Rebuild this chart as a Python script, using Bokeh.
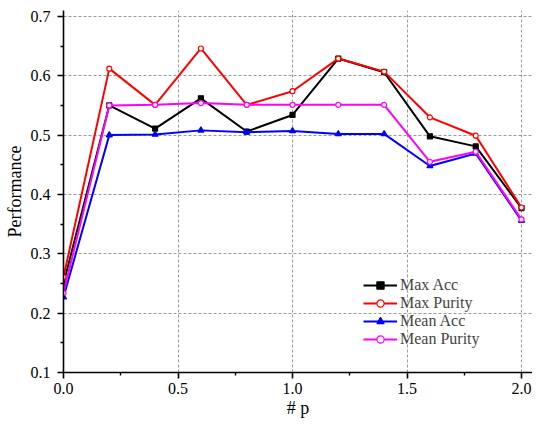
from bokeh.plotting import figure
from bokeh.models import FixedTicker, PrintfTickFormatter, Range1d, Legend, LegendItem
from bokeh.embed import file_html
from bokeh.resources import INLINE

p_values = [0.0, 0.2, 0.4, 0.6, 0.8, 1.0, 1.2, 1.4, 1.6, 1.8, 2.0]
max_acc = [0.250, 0.550, 0.511, 0.562, 0.506, 0.534, 0.629, 0.606, 0.498, 0.481, 0.377]
max_purity = [0.261, 0.612, 0.551, 0.646, 0.551, 0.574, 0.629, 0.607, 0.530, 0.499, 0.378]
mean_acc = [0.227, 0.500, 0.501, 0.508, 0.505, 0.507, 0.502, 0.502, 0.448, 0.469, 0.356]
mean_purity = [0.234, 0.550, 0.551, 0.554, 0.551, 0.551, 0.551, 0.551, 0.455, 0.472, 0.358]

x_ticks = [0.0, 0.5, 1.0, 1.5, 2.0]
x_minor = [0.25, 0.75, 1.25, 1.75]
y_ticks = [0.1, 0.2, 0.3, 0.4, 0.5, 0.6, 0.7]
y_minor = [0.15, 0.25, 0.35, 0.45, 0.55, 0.65]

FONT = "Liberation Serif"

p = figure(output_backend="svg", toolbar_location=None,
           frame_width=469, frame_height=362,
           min_border_left=63, min_border_right=0, min_border_top=10, min_border_bottom=40,
           x_range=Range1d(0, 2.048), y_range=Range1d(0.1, 0.71))
p.outline_line_color = None
p.background_fill_color = "white"

for ax, ticks, minor in ((p.xaxis[0], x_ticks, x_minor), (p.yaxis[0], y_ticks, y_minor)):
    ax.ticker = FixedTicker(ticks=ticks, minor_ticks=minor)
    ax.formatter = PrintfTickFormatter(format="%.1f")
    ax.axis_line_width = 1.6
    ax.axis_line_color = "black"
    ax.major_tick_line_width = 1.6
    ax.minor_tick_line_width = 1.4
    ax.major_tick_in = 0
    ax.major_tick_out = 6
    ax.minor_tick_in = 0
    ax.minor_tick_out = 3
    ax.major_label_text_font = FONT
    ax.major_label_text_font_size = "16px"
    ax.major_label_text_color = "black"
    ax.axis_label_text_font = FONT
    ax.axis_label_text_font_size = "18px"
    ax.axis_label_text_font_style = "normal"
    ax.axis_label_text_color = "black"

p.xaxis.major_label_standoff = 4
p.yaxis.major_label_standoff = 7
p.xaxis.axis_label = "# p"
p.yaxis.axis_label = "Performance"
p.xaxis.axis_label_standoff = 1
p.yaxis.axis_label_standoff = 3

for g in (p.xgrid[0], p.ygrid[0]):
    g.grid_line_color = "#9a9a9a"
    g.grid_line_dash = "3 2"
    g.grid_line_width = 1

series = [
    ("Max Acc", max_acc, "black", "square", "black", 5),
    ("Max Purity", max_purity, "red", "circle", "white", 5),
    ("Mean Acc", mean_acc, "blue", "triangle", "blue", 6),
    ("Mean Purity", mean_purity, "magenta", "circle", "white", 5),
]

items = []
for label, ys, color, marker, fill, size in series:
    r1 = p.line(p_values, ys, line_color=color, line_width=2)
    r2 = p.scatter(p_values, ys, marker=marker, size=size, line_color=color,
                   fill_color=fill, line_width=1.2)
    items.append(LegendItem(label=label, renderers=[r1, r2]))

legend = Legend(items=items, location=(300, 24), background_fill_alpha=0,
                border_line_color=None, padding=0, margin=0, spacing=0,
                glyph_width=34, glyph_height=18, label_height=18,
                label_text_font=FONT, label_text_font_size="16px",
                label_standoff=3)
p.add_layout(legend, "center")

open("out.html", "w").write(file_html(p, INLINE))
